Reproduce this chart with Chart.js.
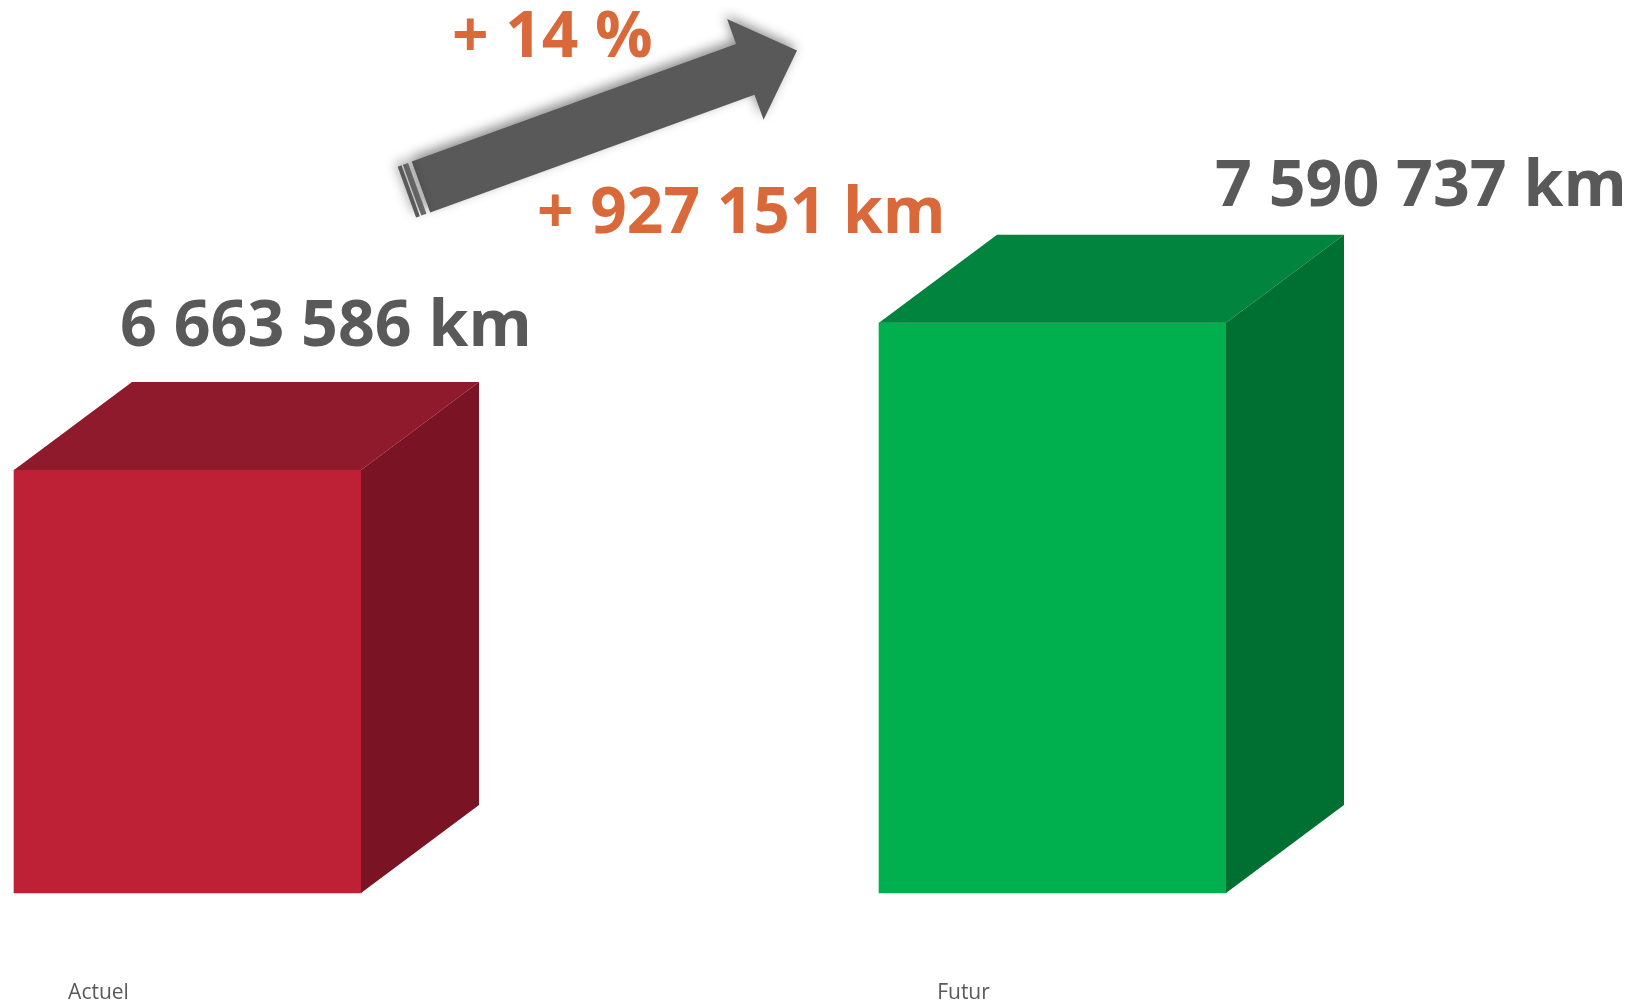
<!DOCTYPE html>
<html>
<head>
<meta charset="utf-8">
<script src="https://cdn.jsdelivr.net/npm/chart.js@4/dist/chart.umd.min.js"></script>
<style>
  html, body { margin: 0; padding: 0; background: #fff; }
  #wrap { width: 1644px; height: 1003px; }
</style>
</head>
<body>
<div id="wrap"><canvas id="chart_km"></canvas></div>
<script>
// data
const categories = ["Actuel", "Futur"];
const distances = [6663586, 7590737];

// colours of the three faces of each box
const frontColors = ["#BE2036", "#00B04E"];
const topColors = ["#8F1A2B", "#00843E"];
const sideColors = ["#7A1324", "#006F32"];

const gray = "#595959";
const orange = "#D9693A";

function fmt(n) {
    return String(n).replace(/\B(?=(\d{3})+(?!\d))/g, " ");
}

// 3D boxes + value labels
const boxPlugin = {
    id: "box3d",
    afterDatasetsDraw(chart, args, opts) {
        const ctx = chart.ctx;
        const meta = chart.getDatasetMeta(0);
        meta.data.forEach((bar, i) => {
            const l = bar.x - bar.width / 2;
            const r = bar.x + bar.width / 2;
            const t = bar.y;
            const b = bar.base;
            const dx = opts.depthX, dy = opts.depthY;
            ctx.save();
            ctx.fillStyle = topColors[i];
            ctx.beginPath();
            ctx.moveTo(l, t);
            ctx.lineTo(l + dx, t + dy);
            ctx.lineTo(r + dx, t + dy);
            ctx.lineTo(r, t);
            ctx.closePath();
            ctx.fill();
            ctx.fillStyle = sideColors[i];
            ctx.beginPath();
            ctx.moveTo(r, t);
            ctx.lineTo(r + dx, t + dy);
            ctx.lineTo(r + dx, b + dy);
            ctx.lineTo(r, b);
            ctx.closePath();
            ctx.fill();

            // value label
            const off = opts.labelOffsets[i];
            ctx.fillStyle = gray;
            ctx.font = "bold " + opts.labelSize + "px 'Open Sans'";
            ctx.textAlign = "left";
            ctx.textBaseline = "alphabetic";
            ctx.fillText(fmt(distances[i]) + " km", l + off[0], t + off[1]);
            ctx.restore();
        });
    }
};

// growth arrow with the difference
const arrowPlugin = {
    id: "growthArrow",
    afterDraw(chart, args, o) {
        const ctx = chart.ctx;
        const ang = Math.atan2(o.dirY, o.dirX);
        ctx.save();
        ctx.translate(o.x, o.y);
        ctx.rotate(ang);
        const hw = o.shaft / 2, hh = o.head / 2;
        ctx.fillStyle = gray;
        ctx.shadowColor = "rgba(0,0,0,0.45)";
        ctx.shadowBlur = 12;
        ctx.shadowOffsetX = -2;
        ctx.shadowOffsetY = -4;
        ctx.beginPath();
        ctx.moveTo(0, -hw);
        ctx.lineTo(o.len, -hw);
        ctx.lineTo(o.len, -hh);
        ctx.lineTo(o.len + o.headLen, 0);
        ctx.lineTo(o.len, hh);
        ctx.lineTo(o.len, hw);
        ctx.lineTo(0, hw);
        ctx.closePath();
        ctx.fill();
        // tail stripes
        ctx.fillStyle = "#6b6b6b";
        ctx.fillRect(-9.5, -hw, 5.5, o.shaft);
        ctx.fillStyle = gray;
        ctx.fillRect(-15, -hw, 4, o.shaft);
        ctx.restore();

        const diff = distances[1] - distances[0];
        const pct = Math.round(diff / distances[0] * 100);
        ctx.save();
        ctx.fillStyle = orange;
        ctx.font = "bold " + o.textSize + "px 'Open Sans'";
        ctx.textAlign = "left";
        ctx.textBaseline = "alphabetic";
        ctx.fillText("+ " + pct + " %", o.pctX, o.pctY);
        ctx.fillText("+ " + fmt(diff) + " km", o.diffX, o.diffY);
        ctx.restore();
    }
};

let km_elm = document.getElementById("chart_km").getContext("2d");
new Chart(km_elm, {
    type: "bar",
    data: {
        labels: categories,
        datasets: [{
            data: distances,
            base: 4000000,
            backgroundColor: frontColors,
            borderWidth: 0,
            barThickness: 347,
            clip: false,
        }]
    },
    options: {
        responsive: true,
        maintainAspectRatio: false,
        animation: false,
        layout: {
            padding: { left: 187.5, right: 591.5, top: 99, bottom: 0 }
        },
        scales: {
            x: {
                offset: false,
                grid: { display: false, drawTicks: false },
                border: { display: false },
                ticks: {
                    color: gray,
                    font: { family: "'Open Sans'", size: 21 },
                    padding: 87,
                    labelOffset: -89,
                    maxRotation: 0,
                },
                afterFit(scale) { scale.height = 110; }
            },
            y: {
                display: false,
                min: 4000000,
                max: 9000000,
            }
        },
        plugins: {
            legend: { display: false },
            tooltip: { enabled: false },
            box3d: {
                depthX: 118,
                depthY: -88,
                labelSize: 64.5,
                labelOffsets: [[106, -124], [336, -117]],
            },
            growthArrow: {
                x: 421, y: 187,
                dirX: 0.940, dirY: -0.341,
                len: 345, headLen: 55,
                shaft: 54, head: 107,
                textSize: 64,
                pctX: 452, pctY: 57,
                diffX: 537, diffY: 233,
            }
        }
    },
    plugins: [boxPlugin, arrowPlugin]
});
</script>
</body>
</html>
